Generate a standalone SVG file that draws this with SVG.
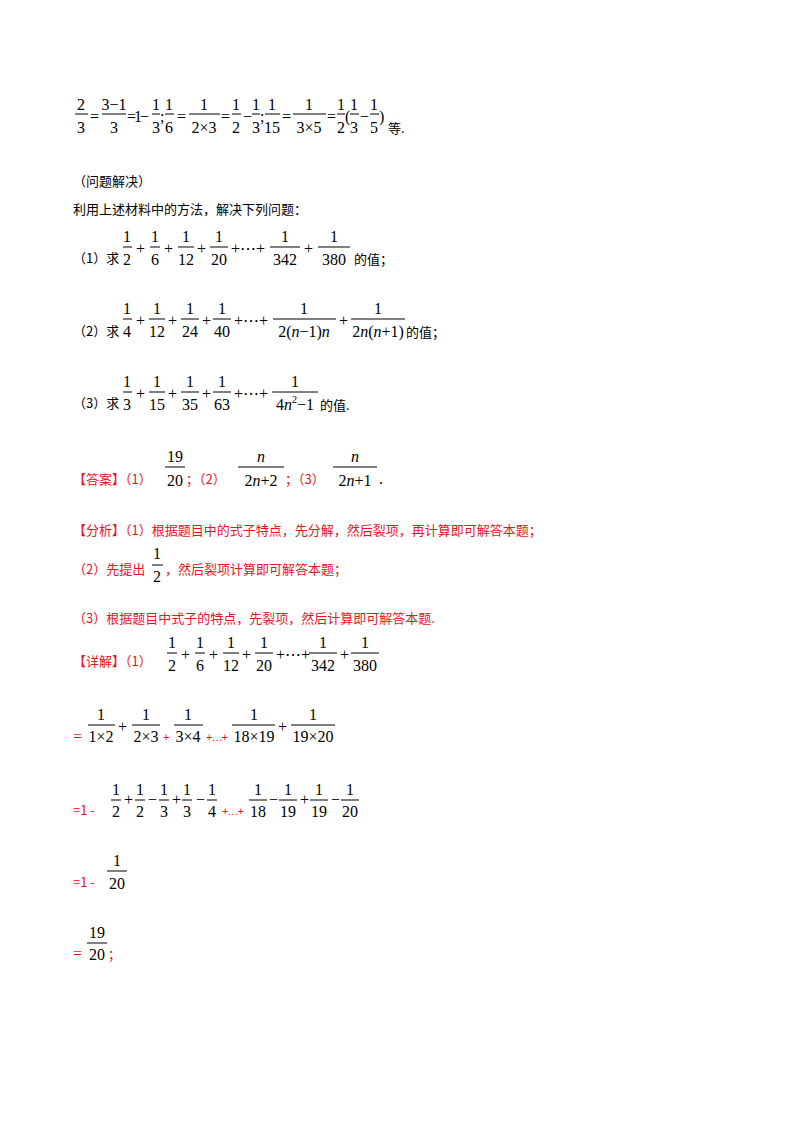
<svg xmlns="http://www.w3.org/2000/svg" width="800" height="1132" viewBox="0 0 800 1132" font-family="'Liberation Serif', 'Times New Roman', 'DejaVu Serif', serif">
<style>
text{font-family:'Liberation Serif','Times New Roman','DejaVu Serif',serif;font-size:16px;fill:#000}
text.c{font-family:'Noto Sans CJK SC','Liberation Sans',sans-serif;font-size:13px}
.r{fill:#e8141e}
.m{text-anchor:middle}
.s{font-family:'Liberation Sans',sans-serif;font-size:11px}
line{stroke:#000;stroke-width:1}
</style>
<rect width="800" height="1132" fill="#fff"/>
<g id="line1">
<text class="m" x="81" y="110">2</text><line x1="75" y1="114" x2="88" y2="114"/><text class="m" x="81" y="133">3</text>
<text x="90" y="122">=</text>
<text class="m" x="114" y="110">3−1</text><line x1="102" y1="114" x2="126" y2="114"/><text class="m" x="114" y="133">3</text>
<text x="127" y="122" textLength="22">=1−</text>
<text class="m" x="156" y="110">1</text><line x1="152" y1="114" x2="160" y2="114"/><text class="m" x="156" y="133">3</text>
<text x="160" y="122">;</text>
<text class="m" x="169" y="110">1</text><line x1="165" y1="114" x2="174" y2="114"/><text class="m" x="169" y="133">6</text>
<text x="177" y="122">=</text>
<text class="m" x="204" y="110">1</text><line x1="189" y1="114" x2="220" y2="114"/><text class="m" x="204" y="133">2×3</text>
<text x="221" y="122">=</text>
<text class="m" x="236" y="110">1</text><line x1="232" y1="114" x2="241" y2="114"/><text class="m" x="236" y="133">2</text>
<text x="243" y="122">−</text>
<text class="m" x="256" y="110">1</text><line x1="252" y1="114" x2="260" y2="114"/><text class="m" x="256" y="133">3</text>
<text x="260" y="122">;</text>
<text class="m" x="272" y="110">1</text><line x1="265" y1="114" x2="280" y2="114"/><text class="m" x="272" y="133">15</text>
<text x="282" y="122">=</text>
<text class="m" x="309" y="110">1</text><line x1="293" y1="114" x2="326" y2="114"/><text class="m" x="309" y="133">3×5</text>
<text x="327" y="122">=</text>
<text class="m" x="341" y="110">1</text><line x1="337" y1="114" x2="345" y2="114"/><text class="m" x="341" y="133">2</text>
<text x="345" y="122">(</text>
<text class="m" x="354" y="110">1</text><line x1="350" y1="114" x2="359" y2="114"/><text class="m" x="354" y="133">3</text>
<text x="360" y="122">−</text>
<text class="m" x="374" y="110">1</text><line x1="370" y1="114" x2="379" y2="114"/><text class="m" x="374" y="133">5</text>
<text x="379" y="122">)</text>
<text x="388" y="133" class="c">等.</text>
</g>
<g id="heading">
<text class="c" x="73" y="186">（问题解决）</text>
<text class="c" x="73" y="214">利用上述材料中的方法，解决下列问题：</text>
</g>
<g id="q1">
<text class="c" x="73" y="263">（1）求</text>
<text class="m" x="127" y="242">1</text><line x1="123" y1="247" x2="132" y2="247"/><text class="m" x="127" y="265">2</text>
<text x="136" y="254">+</text>
<text class="m" x="155" y="242">1</text><line x1="150" y1="247" x2="160" y2="247"/><text class="m" x="155" y="265">6</text>
<text x="164" y="254">+</text>
<text class="m" x="186" y="242">1</text><line x1="178" y1="247" x2="194" y2="247"/><text class="m" x="186" y="265">12</text>
<text x="197" y="254">+</text>
<text class="m" x="219" y="242">1</text><line x1="210" y1="247" x2="228" y2="247"/><text class="m" x="219" y="265">20</text>
<text x="231" y="254">+⋯+</text>
<text class="m" x="285" y="242">1</text><line x1="270" y1="247" x2="300" y2="247"/><text class="m" x="285" y="265">342</text>
<text x="304" y="254">+</text>
<text class="m" x="334" y="242">1</text><line x1="318" y1="247" x2="350" y2="247"/><text class="m" x="334" y="265">380</text>
<text class="c" x="354" y="264">的值；</text>
</g>
<g id="q2">
<text class="c" x="73" y="336">（2）求</text>
<text class="m" x="127" y="314">1</text><line x1="123" y1="319" x2="132" y2="319"/><text class="m" x="127" y="337">4</text>
<text x="136" y="326">+</text>
<text class="m" x="157" y="314">1</text><line x1="149" y1="319" x2="165" y2="319"/><text class="m" x="157" y="337">12</text>
<text x="168" y="326">+</text>
<text class="m" x="190" y="314">1</text><line x1="181" y1="319" x2="199" y2="319"/><text class="m" x="190" y="337">24</text>
<text x="202" y="326">+</text>
<text class="m" x="222" y="314">1</text><line x1="213" y1="319" x2="231" y2="319"/><text class="m" x="222" y="337">40</text>
<text x="234" y="326">+⋯+</text>
<text class="m" x="304" y="314">1</text><line x1="273" y1="319" x2="336" y2="319"/><text class="m" x="304" y="337">2(<tspan font-style="italic">n</tspan>−1)<tspan font-style="italic">n</tspan></text>
<text x="339" y="326">+</text>
<text class="m" x="378" y="314">1</text><line x1="351" y1="319" x2="405" y2="319"/><text class="m" x="378" y="337">2<tspan font-style="italic">n</tspan>(<tspan font-style="italic">n</tspan>+1)</text>
<text class="c" x="406" y="337">的值；</text>
</g>
<g id="q3">
<text class="c" x="73" y="408">（3）求</text>
<text class="m" x="127" y="387">1</text><line x1="123" y1="392" x2="132" y2="392"/><text class="m" x="127" y="410">3</text>
<text x="136" y="399">+</text>
<text class="m" x="157" y="387">1</text><line x1="149" y1="392" x2="165" y2="392"/><text class="m" x="157" y="410">15</text>
<text x="168" y="399">+</text>
<text class="m" x="190" y="387">1</text><line x1="181" y1="392" x2="199" y2="392"/><text class="m" x="190" y="410">35</text>
<text x="202" y="399">+</text>
<text class="m" x="222" y="387">1</text><line x1="213" y1="392" x2="231" y2="392"/><text class="m" x="222" y="410">63</text>
<text x="234" y="399">+⋯+</text>
<text class="m" x="295" y="387">1</text><line x1="272" y1="392" x2="318" y2="392"/><text class="m" x="295" y="410">4<tspan font-style="italic">n</tspan><tspan font-size="10" dy="-7">2</tspan><tspan dy="7">−1</tspan></text>
<text class="c" x="320" y="410">的值.</text>
</g>
<g id="answer">
<text class="c r" x="73" y="484">【答案】（1）</text>
<text class="m" x="175" y="462">19</text><line x1="165" y1="467" x2="185" y2="467"/><text class="m" x="175" y="486">20</text>
<text class="c r" x="186" y="484">；（2）</text>
<text class="m" x="261" y="462" font-style="italic">n</text><line x1="238" y1="467" x2="284" y2="467"/><text class="m" x="261" y="486">2<tspan font-style="italic">n</tspan>+2</text>
<text class="c r" x="285" y="484">；（3）</text>
<text class="m" x="355" y="462" font-style="italic">n</text><line x1="333" y1="467" x2="377" y2="467"/><text class="m" x="355" y="486">2<tspan font-style="italic">n</tspan>+1</text>
<text x="379" y="484">.</text>
</g>
<g id="analysis">
<text class="c r" x="73" y="535">【分析】（1）根据题目中的式子特点，先分解，然后裂项，再计算即可解答本题；</text>
<text class="c r" x="73" y="574">（2）先提出</text>
<text class="m" x="157" y="559">1</text><line x1="152" y1="565" x2="163" y2="565"/><text class="m" x="157" y="582">2</text>
<text class="c r" x="165" y="574">，然后裂项计算即可解答本题；</text>
<text class="c r" x="73" y="623">（3）根据题目中式子的特点，先裂项，然后计算即可解答本题.</text>
</g>
<g id="detail1">
<text class="c r" x="73" y="666">【详解】（1）</text>
<text class="m" x="172" y="648">1</text><line x1="167" y1="653" x2="177" y2="653"/><text class="m" x="172" y="671">2</text>
<text x="181" y="660">+</text>
<text class="m" x="200" y="648">1</text><line x1="195" y1="653" x2="205" y2="653"/><text class="m" x="200" y="671">6</text>
<text x="209" y="660">+</text>
<text class="m" x="231" y="648">1</text><line x1="223" y1="653" x2="239" y2="653"/><text class="m" x="231" y="671">12</text>
<text x="242" y="660">+</text>
<text class="m" x="264" y="648">1</text><line x1="255" y1="653" x2="273" y2="653"/><text class="m" x="264" y="671">20</text>
<text x="276" y="660">+⋯+</text>
<text class="m" x="323" y="648">1</text><line x1="309" y1="653" x2="337" y2="653"/><text class="m" x="323" y="671">342</text>
<text x="340" y="660">+</text>
<text class="m" x="365" y="648">1</text><line x1="351" y1="653" x2="379" y2="653"/><text class="m" x="365" y="671">380</text>
</g>
<g id="detail2">
<text class="r" x="73" y="742">=</text>
<text class="m" x="101" y="720">1</text><line x1="88" y1="725" x2="115" y2="725"/><text class="m" x="101" y="742">1×2</text>
<text x="118" y="732">+</text>
<text class="m" x="146" y="720">1</text><line x1="132" y1="725" x2="160" y2="725"/><text class="m" x="146" y="742">2×3</text>
<text class="r s" x="163" y="741">+</text>
<text class="m" x="188" y="720">1</text><line x1="174" y1="725" x2="203" y2="725"/><text class="m" x="188" y="742">3×4</text>
<text class="r s" x="206" y="741" textLength="22">+…+</text>
<text class="m" x="254" y="720">1</text><line x1="232" y1="725" x2="275" y2="725"/><text class="m" x="254" y="742">18×19</text>
<text x="278" y="732">+</text>
<text class="m" x="313" y="720">1</text><line x1="291" y1="725" x2="335" y2="725"/><text class="m" x="313" y="742">19×20</text>
</g>
<g id="detail3">
<text class="r c" x="73" y="815">=1 -</text>
<text class="m" x="116" y="795">1</text><line x1="111" y1="800" x2="121" y2="800"/><text class="m" x="116" y="817">2</text>
<text x="124" y="805">+</text>
<text class="m" x="140" y="795">1</text><line x1="135" y1="800" x2="145" y2="800"/><text class="m" x="140" y="817">2</text>
<text x="148" y="805">−</text>
<text class="m" x="164" y="795">1</text><line x1="159" y1="800" x2="169" y2="800"/><text class="m" x="164" y="817">3</text>
<text x="172" y="805">+</text>
<text class="m" x="187" y="795">1</text><line x1="182" y1="800" x2="192" y2="800"/><text class="m" x="187" y="817">3</text>
<text x="196" y="805">−</text>
<text class="m" x="212" y="795">1</text><line x1="207" y1="800" x2="217" y2="800"/><text class="m" x="212" y="817">4</text>
<text class="r s" x="222" y="815" textLength="22">+…+</text>
<text class="m" x="258" y="795">1</text><line x1="249" y1="800" x2="267" y2="800"/><text class="m" x="258" y="817">18</text>
<text x="269" y="805">−</text>
<text class="m" x="288" y="795">1</text><line x1="279" y1="800" x2="297" y2="800"/><text class="m" x="288" y="817">19</text>
<text x="300" y="805">+</text>
<text class="m" x="319" y="795">1</text><line x1="310" y1="800" x2="328" y2="800"/><text class="m" x="319" y="817">19</text>
<text x="331" y="805">−</text>
<text class="m" x="350" y="795">1</text><line x1="341" y1="800" x2="359" y2="800"/><text class="m" x="350" y="817">20</text>
</g>
<g id="detail4">
<text class="r c" x="73" y="887">=1 -</text>
<text class="m" x="117" y="866">1</text><line x1="107" y1="871" x2="127" y2="871"/><text class="m" x="117" y="889">20</text>
</g>
<g id="detail5">
<text class="m" x="97" y="938">19</text><line x1="87" y1="943" x2="107" y2="943"/><text class="m" x="97" y="960">20</text>
<text class="r" x="73" y="959">=</text>
<text class="r c" x="108" y="959">；</text>
</g>
</svg>
